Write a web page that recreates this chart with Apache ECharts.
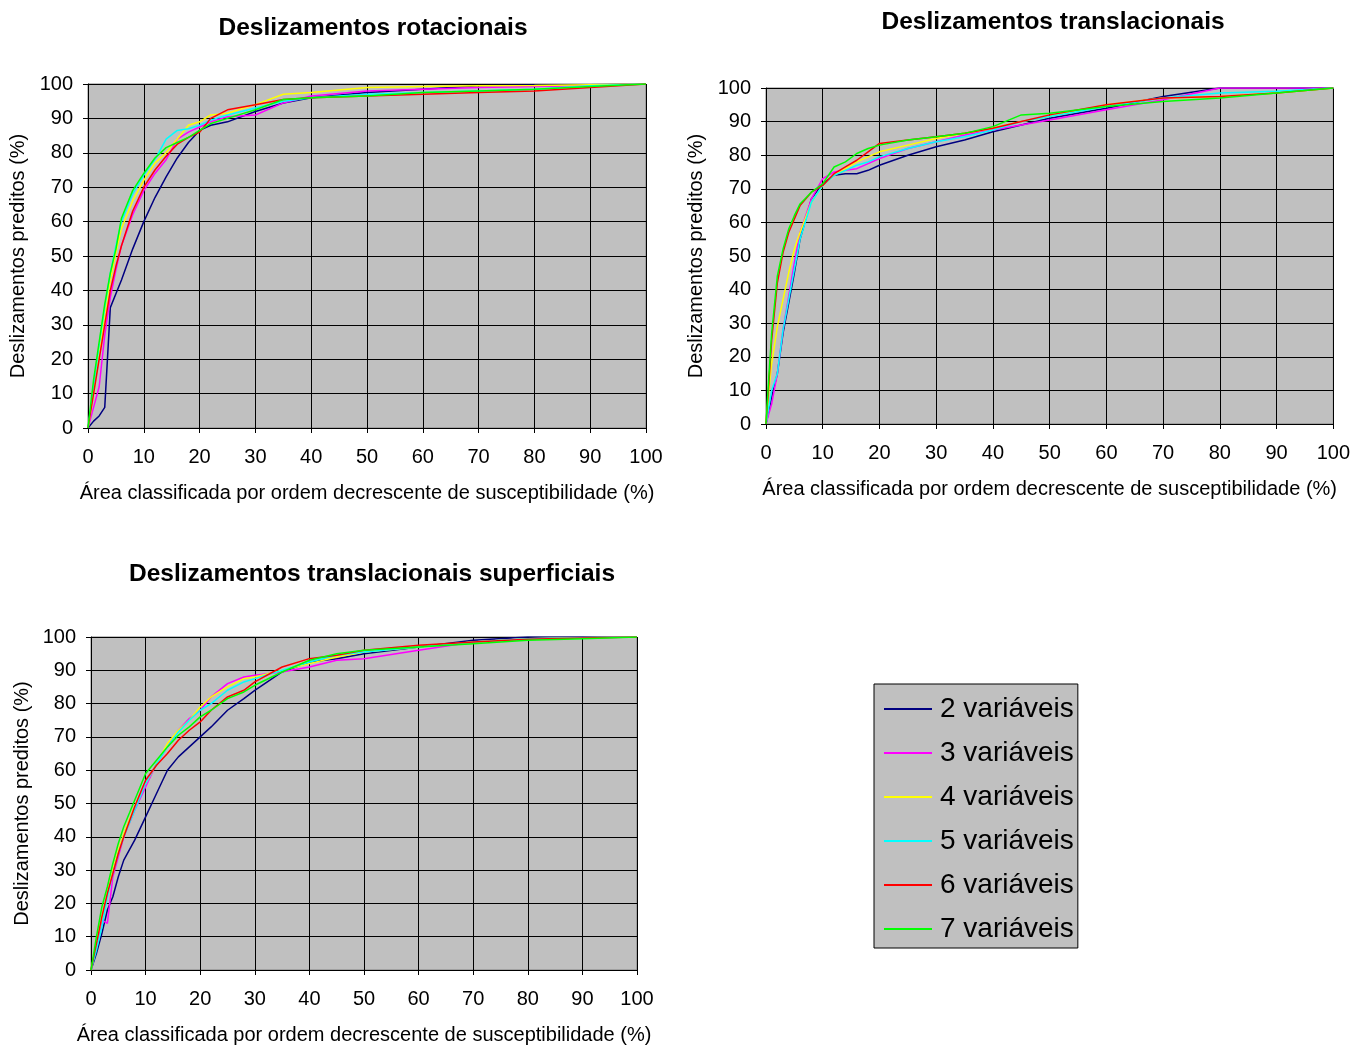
<!DOCTYPE html>
<html>
<head>
<meta charset="utf-8">
<script src="https://cdn.jsdelivr.net/npm/echarts@6/dist/echarts.min.js"></script>
<style>
  html, body { margin: 0; padding: 0; background: #fff; }
  #chart { width: 1353px; height: 1046px; }
</style>
</head>
<body>
<div id="chart"></div>
<script>
// series names and colours
var seriesNames = ['2 variáveis', '3 variáveis', '4 variáveis', '5 variáveis', '6 variáveis', '7 variáveis'];
var seriesColors = ['#000080', '#ff00ff', '#ffff00', '#00ffff', '#ff0000', '#00ff00'];

// Deslizamentos rotacionais
var xsRot = [0, 1, 2, 3, 4, 5, 6, 8, 10, 12, 14, 16, 18, 20, 22, 25, 30, 35, 40, 50, 60, 70, 80, 90, 100];
var rot2 = [0, 2, 3.5, 6, 35, 39, 43, 52, 60, 67, 73, 78.5, 83, 86.5, 88, 89, 92, 94.5, 96, 97.5, 98.5, 99.5, 99.7, 99.8, 100];
var rot3 = [0, 6, 12, 27, 38, 46, 53, 62, 69, 74, 78, 84, 86, 87.5, 89, 90.5, 91, 94.5, 96.5, 98, 98.5, 99, 99.3, 99.6, 100];
var rot4 = [0, 10, 22, 33, 43, 51, 58, 66, 72, 77, 80, 84, 88, 89, 91, 91.5, 94, 97, 97.5, 99, 99.3, 99.5, 99.6, 99.8, 100];
var rot5 = [0, 12, 24, 35, 45, 53, 60, 68, 73.5, 78, 84, 86.5, 87, 88, 89.5, 91, 93, 95, 96, 97, 97.5, 98, 98.5, 99.5, 100];
var rot6 = [0, 10, 20, 30, 40, 47, 53, 63, 70, 75, 79, 82.5, 84.5, 86, 90, 92.5, 94, 95.5, 96, 96.5, 97, 97.5, 98, 99, 100];
var rot7 = [0, 14, 25, 36, 45, 52, 61, 69, 74, 78.5, 81.5, 83, 84.5, 86.5, 88.5, 90, 92.5, 95.5, 96, 96.5, 97.5, 98, 98.5, 99.3, 100];

// Deslizamentos translacionais
var xsTra = [0, 0.5, 1, 2, 3, 4, 5, 6, 8, 10, 12, 14, 16, 18, 20, 25, 30, 35, 40, 45, 50, 60, 70, 80, 90, 100];
var tra2 = [0, 4, 8, 15, 27, 36, 45, 55, 67, 71.5, 74, 74.5, 74.5, 75.5, 77, 80, 82.5, 84.5, 87, 89, 91, 94, 97.5, 100, 100, 100];
var tra3 = [0, 3, 6, 15, 28, 38, 48, 57, 67, 73, 75, 75.5, 76, 77.5, 79, 82, 84, 86, 87.5, 89, 90.5, 93.5, 96.5, 100, 100, 100];
var tra4 = [0, 10, 18, 29, 37, 45, 52, 57, 66, 71, 74, 76, 78, 79.5, 81, 83, 85, 86.5, 88, 90, 91.5, 95, 97, 97.5, 98.5, 100];
var tra5 = [0, 5, 10, 15, 28, 37, 46, 55, 66, 71, 74, 75.5, 77, 78, 79.5, 82, 84, 85.5, 87.5, 90, 91.5, 94.5, 97, 98.5, 99, 100];
var tra6 = [0, 12, 25, 42, 51, 57, 61, 65, 69, 71, 74.5, 76.5, 78.5, 81, 83.5, 84.5, 85.5, 86.5, 88, 90, 92, 95, 97, 97.5, 98.5, 100];
var tra7 = [0, 14, 27, 44, 52, 58, 62, 65.5, 69, 71.5, 76.5, 78, 80.5, 82, 83, 84.5, 85.5, 86.5, 88.5, 92, 92.5, 94.5, 96, 97, 98.5, 100];

// Deslizamentos translacionais superficiais
var xsSup = [0, 1, 2, 3, 4, 5, 6, 8, 10, 12, 14, 16, 18, 20, 22, 25, 28, 30, 35, 40, 45, 50, 60, 70, 80, 90, 100];
var sup2 = [0, 5, 11, 18, 22, 28, 33, 39, 46, 53, 60, 64, 67, 70, 73, 78, 81.5, 84, 89.5, 92.5, 93.5, 95, 97, 99, 100, 100, 100];
var sup3 = [0, 7, 15, 14, 28, 34, 40, 48, 55, 62, 67, 72, 75.5, 78, 82, 86, 88, 88.5, 89.5, 91, 93, 93.5, 96, 98.5, 99.5, 99.8, 100];
var sup4 = [0, 8, 16, 23, 30, 36, 41, 49, 56, 62, 68, 72, 75, 79, 82, 85, 87.5, 88, 90, 92, 94, 95.5, 97, 98.5, 99.5, 99.8, 100];
var sup5 = [0, 6, 13, 22, 29, 35, 40, 48, 56, 62, 67, 71.5, 75, 78, 80, 84, 86.5, 87.5, 90, 92.5, 94.5, 95.5, 97, 98.5, 99.5, 99.8, 100];
var sup6 = [0, 8, 16, 23, 29, 35, 40, 49, 57, 61.5, 65, 69, 72, 74.5, 78, 82, 84, 86.5, 91, 93.5, 94.5, 96, 97.5, 98.5, 99.3, 99.7, 100];
var sup7 = [0, 10, 19, 25, 32, 38, 43, 51, 59, 63, 67, 70.5, 73, 76, 78, 81.5, 83.5, 85.5, 89.5, 93, 95, 96, 97, 98, 99, 99.5, 100];

var ticks = [0, 10, 20, 30, 40, 50, 60, 70, 80, 90, 100];

var fontFamily = '"Liberation Sans", Arial, sans-serif';
var xName = 'Área classificada por ordem decrescente de susceptibilidade (%)';
var yName = 'Deslizamentos preditos (%)';

var panels = [
  {title: 'Deslizamentos rotacionais', titleX: 368, titleY: 11,
   grid: {left: 88, top: 84, width: 558, height: 344}, yNameGap: 60,
   xs: xsRot, ys: [rot2, rot3, rot4, rot5, rot6, rot7]},
  {title: 'Deslizamentos translacionais', titleX: 1048, titleY: 5,
   grid: {left: 766, top: 88, width: 569, height: 336}, yNameGap: 60,
   xs: xsTra, ys: [tra2, tra3, tra4, tra5, tra6, tra7]},
  {title: 'Deslizamentos translacionais superficiais', titleX: 367, titleY: 557,
   grid: {left: 91, top: 637, width: 546, height: 334}, yNameGap: 59,
   xs: xsSup, ys: [sup2, sup3, sup4, sup5, sup6, sup7]}
];

function makePairs(xs, ys) {
  var data = [];
  for (var i = 0; i < xs.length; ++i) {
    data.push([xs[i], ys[i]]);
  }
  return data;
}

function axisBase() {
  return {
    type: 'value',
    min: ticks[0],
    max: ticks[ticks.length - 1],
    interval: 10,
    axisLine: {show: true, onZero: false, lineStyle: {color: '#000', width: 1}},
    axisTick: {show: true, length: 5, lineStyle: {color: '#000'}},
    axisLabel: {color: '#000', fontSize: 20, fontFamily: fontFamily},
    splitLine: {show: true, lineStyle: {color: '#000', width: 1}},
    nameLocation: 'middle',
    nameTextStyle: {color: '#000', fontSize: 20, fontFamily: fontFamily}
  };
}

var titles = [], grids = [], xAxes = [], yAxes = [], series = [];
for (var p = 0; p < panels.length; ++p) {
  var panel = panels[p];
  titles.push({
    text: panel.title,
    left: panel.titleX,
    top: panel.titleY,
    textAlign: 'center',
    textStyle: {color: '#000', fontSize: 24.5, fontWeight: 'bold', fontFamily: fontFamily}
  });
  grids.push({
    left: panel.grid.left,
    top: panel.grid.top,
    width: panel.grid.width,
    height: panel.grid.height,
    show: true,
    backgroundColor: '#c0c0c0',
    borderColor: '#808080',
    borderWidth: 1
  });
  var xa = axisBase();
  xa.gridIndex = p;
  xa.name = xName;
  xa.nameGap = 55;
  xa.axisLabel.margin = 19;
  xAxes.push(xa);
  var ya = axisBase();
  ya.gridIndex = p;
  ya.name = yName;
  ya.nameGap = panel.yNameGap;
  ya.axisLabel.margin = 15;
  yAxes.push(ya);
  for (var s = 0; s < seriesNames.length; ++s) {
    series.push({
      type: 'line',
      name: seriesNames[s],
      xAxisIndex: p,
      yAxisIndex: p,
      data: makePairs(panel.xs, panel.ys[s]),
      symbol: 'none',
      smooth: false,
      lineStyle: {color: seriesColors[s], width: 1.5},
      itemStyle: {color: seriesColors[s]}
    });
  }
}

var chart = echarts.init(document.getElementById('chart'));
chart.setOption({
  animation: false,
  backgroundColor: '#fff',
  title: titles,
  grid: grids,
  xAxis: xAxes,
  yAxis: yAxes,
  legend: {
    data: seriesNames,
    orient: 'vertical',
    left: 874,
    top: 684,
    backgroundColor: '#c0c0c0',
    borderColor: '#000',
    borderWidth: 1,
    padding: [10, 4, 4, 10],
    itemWidth: 48,
    itemHeight: 14,
    itemGap: 14,
    icon: 'path://M0,6 L48,6 L48,8 L0,8 Z',
    textStyle: {color: '#000', fontSize: 28, fontFamily: fontFamily, lineHeight: 30, padding: [0, 0, 0, 3]}
  },
  series: series
});
</script>
</body>
</html>
